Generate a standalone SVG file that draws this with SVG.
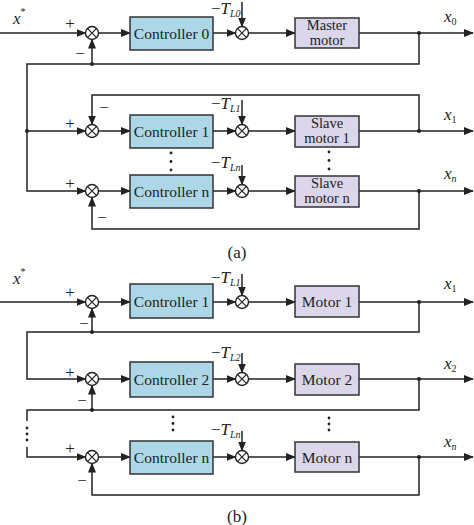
<svg xmlns="http://www.w3.org/2000/svg" width="474" height="525" viewBox="0 0 474 525">
<style>
.ln{fill:none;stroke:#222;stroke-width:1.5}
.ar{fill:none;stroke:#222;stroke-width:1.5;marker-end:url(#ah)}
.ctl{fill:#add7e6;stroke:#333;stroke-width:1.5}
.mot{fill:#dcd6ea;stroke:#333;stroke-width:1.5}
.sum{fill:#fff;stroke:#222;stroke-width:1.4}
.t{font-family:"Liberation Serif","Times New Roman",serif;font-size:15.5px;fill:#222;text-anchor:middle}
.mt{font-family:"Liberation Serif","Times New Roman",serif;font-size:14.5px;fill:#222;text-anchor:middle}
.pm{font-family:"Liberation Serif","Times New Roman",serif;font-size:17px;fill:#222;text-anchor:middle}
.m{font-family:"Liberation Serif","Times New Roman",serif;font-size:17px;fill:#222}
.i{font-style:italic}
.s{font-size:10px;font-style:italic}
.n{font-size:10px}
.dot{fill:#222}
</style>
<defs>
<marker id="ah" markerWidth="10" markerHeight="8" refX="9" refY="4" orient="auto" markerUnits="userSpaceOnUse">
<path d="M0,0 L10,4 L0,8 Z" fill="#222"/>
</marker>
<g id="sj"><circle r="6.5" class="sum"/><path d="M-4.6,-4.6 L4.6,4.6 M-4.6,4.6 L4.6,-4.6" stroke="#222" stroke-width="1.2"/></g>
</defs>

<g id="connectors">
<path class="ar" d="M0,33 H85.5"/>
<path class="ar" d="M98.5,33 H130"/>
<path class="ar" d="M213,33 H235.5"/>
<path class="ar" d="M248.5,33 H295"/>
<path class="ar" d="M359,33 H473"/>
<path class="ar" d="M242,2 V26.5"/>
<path class="ar" d="M419,33 V64 H27 V191 H85.5"/>
<path class="ar" d="M27,131 H85.5"/>
<path class="ar" d="M92,64 V39.5"/>
<path class="ar" d="M98.5,131 H130"/>
<path class="ar" d="M213,131 H235.5"/>
<path class="ar" d="M248.5,131 H295"/>
<path class="ar" d="M359,131 H473"/>
<path class="ar" d="M242,100 V124.5"/>
<path class="ar" d="M419,131 V95 H92 V124.5"/>
<path class="ar" d="M98.5,191 H130"/>
<path class="ar" d="M213,191 H235.5"/>
<path class="ar" d="M248.5,191 H295"/>
<path class="ar" d="M359,191 H473"/>
<path class="ar" d="M242,165 V184.5"/>
<path class="ar" d="M419,191 V229 H92 V197.5"/>
<path class="ar" d="M0,302 H85.5"/>
<path class="ar" d="M98.5,302 H130"/>
<path class="ar" d="M213,302 H235.5"/>
<path class="ar" d="M248.5,302 H295"/>
<path class="ar" d="M359,302 H473"/>
<path class="ar" d="M242,274 V295.5"/>
<path class="ar" d="M419,302 V332 H27 V379 H85.5"/>
<path class="ar" d="M92,332 V308.5"/>
<path class="ar" d="M98.5,379 H130"/>
<path class="ar" d="M213,379 H235.5"/>
<path class="ar" d="M248.5,379 H295"/>
<path class="ar" d="M359,379 H473"/>
<path class="ar" d="M242,353 V372.5"/>
<path class="ln" d="M419,379 V410 H27 V421"/>
<path class="ar" d="M92,410 V385.5"/>
<path class="ar" d="M27,447 V457 H85.5"/>
<path class="ar" d="M98.5,457 H130"/>
<path class="ar" d="M213,457 H235.5"/>
<path class="ar" d="M248.5,457 H295"/>
<path class="ar" d="M359,457 H473"/>
<path class="ar" d="M242,431 V450.5"/>
<path class="ar" d="M419,457 V495 H92 V463.5"/>
<circle class="dot" cx="419" cy="33" r="2"/>
<circle class="dot" cx="92" cy="64" r="2"/>
<circle class="dot" cx="27" cy="131" r="2"/>
<circle class="dot" cx="419" cy="131" r="2"/>
<circle class="dot" cx="419" cy="191" r="2"/>
<circle class="dot" cx="419" cy="302" r="2"/>
<circle class="dot" cx="92" cy="332" r="2"/>
<circle class="dot" cx="419" cy="379" r="2"/>
<circle class="dot" cx="92" cy="410" r="2"/>
<circle class="dot" cx="419" cy="457" r="2"/>
<circle class="dot" cx="171" cy="153" r="1.4"/><circle class="dot" cx="171" cy="161.5" r="1.4"/><circle class="dot" cx="171" cy="170" r="1.4"/>
<circle class="dot" cx="329" cy="152" r="1.4"/><circle class="dot" cx="329" cy="160.5" r="1.4"/><circle class="dot" cx="329" cy="169" r="1.4"/>
<circle class="dot" cx="173" cy="417" r="1.4"/><circle class="dot" cx="173" cy="423.5" r="1.4"/><circle class="dot" cx="173" cy="430" r="1.4"/>
<circle class="dot" cx="329" cy="418" r="1.4"/><circle class="dot" cx="329" cy="424" r="1.4"/><circle class="dot" cx="329" cy="430" r="1.4"/>
<circle class="dot" cx="27" cy="428" r="1.4"/><circle class="dot" cx="27" cy="434" r="1.4"/><circle class="dot" cx="27" cy="440" r="1.4"/>
</g>

<g id="sum_a0"><use href="#sj" x="92" y="33"/></g>
<g id="sum_a0t"><use href="#sj" x="242" y="33"/></g>
<g id="sum_a1"><use href="#sj" x="92" y="131"/></g>
<g id="sum_a1t"><use href="#sj" x="242" y="131"/></g>
<g id="sum_an"><use href="#sj" x="92" y="191"/></g>
<g id="sum_ant"><use href="#sj" x="242" y="191"/></g>
<g id="sum_b1"><use href="#sj" x="92" y="302"/></g>
<g id="sum_b1t"><use href="#sj" x="242" y="302"/></g>
<g id="sum_b2"><use href="#sj" x="92" y="379"/></g>
<g id="sum_b2t"><use href="#sj" x="242" y="379"/></g>
<g id="sum_bn"><use href="#sj" x="92" y="457"/></g>
<g id="sum_bnt"><use href="#sj" x="242" y="457"/></g>

<g id="ctrl_a0"><rect class="ctl" x="130" y="17" width="83" height="33"/><text class="t" x="171.5" y="39">Controller 0</text></g>
<g id="master"><rect class="mot" x="295" y="18" width="64" height="30"/><text class="mt" x="327" y="29.5">Master</text><text class="mt" x="327" y="44.5">motor</text></g>
<g id="ctrl_a1"><rect class="ctl" x="130" y="115" width="83" height="33"/><text class="t" x="171.5" y="137">Controller 1</text></g>
<g id="slave1"><rect class="mot" x="295" y="116" width="64" height="31"/><text class="mt" x="327" y="128">Slave</text><text class="mt" x="327" y="143">motor 1</text></g>
<g id="ctrl_an"><rect class="ctl" x="130" y="175" width="83" height="33"/><text class="t" x="171.5" y="197">Controller n</text></g>
<g id="slaven"><rect class="mot" x="295" y="176" width="64" height="31"/><text class="mt" x="327" y="188">Slave</text><text class="mt" x="327" y="203">motor n</text></g>

<g id="ctrl_b1"><rect class="ctl" x="130" y="284" width="83" height="34"/><text class="t" x="171.5" y="306.5">Controller 1</text></g>
<g id="motor1"><rect class="mot" x="295" y="286" width="64" height="31"/><text class="t" x="327" y="307">Motor 1</text></g>
<g id="ctrl_b2"><rect class="ctl" x="130" y="362" width="83" height="35"/><text class="t" x="171.5" y="385">Controller 2</text></g>
<g id="motor2"><rect class="mot" x="295" y="364" width="64" height="31"/><text class="t" x="327" y="385">Motor 2</text></g>
<g id="ctrl_bn"><rect class="ctl" x="130" y="441" width="83" height="33"/><text class="t" x="171.5" y="462.5">Controller n</text></g>
<g id="motorn"><rect class="mot" x="295" y="442" width="64" height="30"/><text class="t" x="327" y="462.5">Motor n</text></g>

<g id="labels">
<text class="m" x="13" y="24"><tspan class="i">x</tspan><tspan class="n" dy="-9">*</tspan></text>
<text class="m" x="13" y="284"><tspan class="i">x</tspan><tspan class="n" dy="-9">*</tspan></text>

<text class="m" x="211" y="14">−<tspan class="i">T</tspan><tspan class="s" dy="3">L0</tspan></text>
<text class="m" x="211" y="109">−<tspan class="i">T</tspan><tspan class="s" dy="3">L1</tspan></text>
<text class="m" x="211" y="168">−<tspan class="i">T</tspan><tspan class="s" dy="3">Ln</tspan></text>
<text class="m" x="211" y="283">−<tspan class="i">T</tspan><tspan class="s" dy="3">L1</tspan></text>
<text class="m" x="211" y="358">−<tspan class="i">T</tspan><tspan class="s" dy="3">L2</tspan></text>
<text class="m" x="211" y="435">−<tspan class="i">T</tspan><tspan class="s" dy="3">Ln</tspan></text>

<text class="m" x="444" y="22"><tspan class="i">x</tspan><tspan class="n" dy="3">0</tspan></text>
<text class="m" x="444" y="120"><tspan class="i">x</tspan><tspan class="n" dy="3">1</tspan></text>
<text class="m" x="444" y="179"><tspan class="i">x</tspan><tspan class="s" dy="3">n</tspan></text>
<text class="m" x="444" y="289"><tspan class="i">x</tspan><tspan class="n" dy="3">1</tspan></text>
<text class="m" x="444" y="369"><tspan class="i">x</tspan><tspan class="n" dy="3">2</tspan></text>
<text class="m" x="444" y="447"><tspan class="i">x</tspan><tspan class="s" dy="3">n</tspan></text>

<text class="pm" x="70" y="28.5">+</text>
<text class="pm" x="80" y="58.5">−</text>
<text class="pm" x="70" y="128.5">+</text>
<text class="pm" x="104" y="112.5">−</text>
<text class="pm" x="70" y="188.5">+</text>
<text class="pm" x="102" y="222.5">−</text>
<text class="pm" x="70" y="297.5">+</text>
<text class="pm" x="84" y="328.5">−</text>
<text class="pm" x="70" y="377.5">+</text>
<text class="pm" x="82" y="405.5">−</text>
<text class="pm" x="70" y="453.5">+</text>
<text class="pm" x="82" y="485.5">−</text>

<text class="pm" x="237" y="258">(a)</text>
<text class="pm" x="237" y="522">(b)</text>
</g>
</svg>
